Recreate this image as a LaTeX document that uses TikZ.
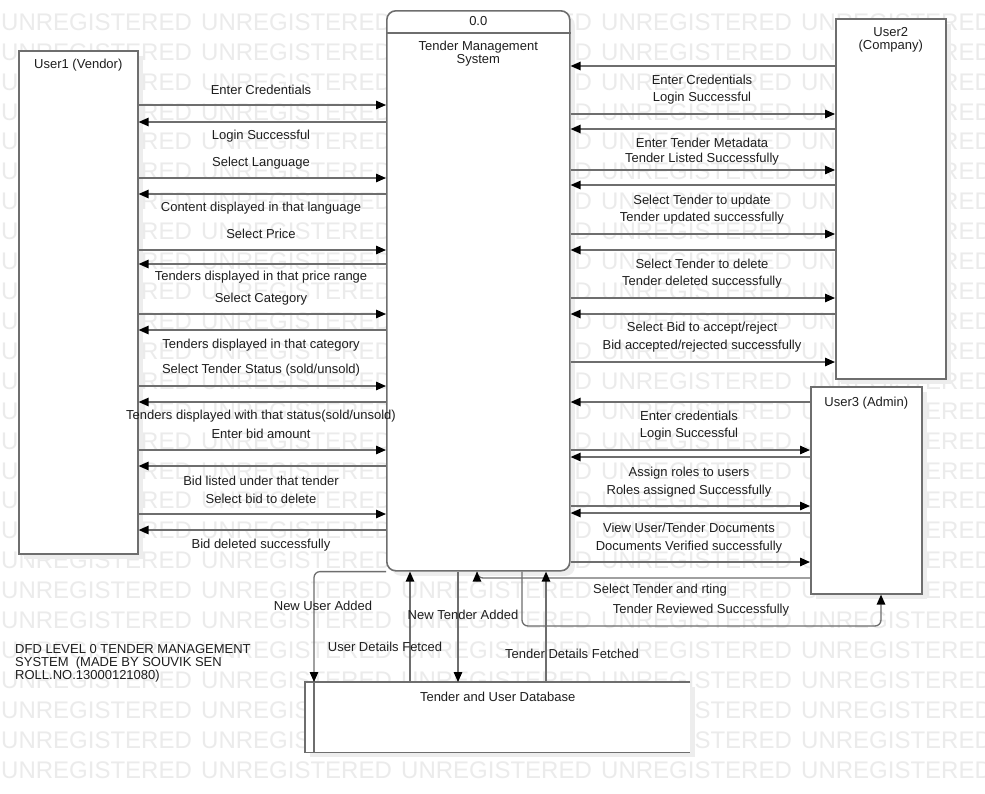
\documentclass[tikz,border=0pt]{standalone}
\usepackage{fontspec}
\setmainfont{Liberation Sans}
\usetikzlibrary{arrows.meta,calc,shadows}
\definecolor{edge}{HTML}{6E6E6E}
\definecolor{mark}{HTML}{EBEBEB}
\definecolor{shade}{HTML}{EDEDED}
\definecolor{ink}{HTML}{1E1E1E}
\tikzset{
  wm/.style={anchor=west, inner sep=0pt, text=mark, font=\fontsize{24}{24}\selectfont},
  entity/.style={draw=edge, line width=1.6pt, fill=white, inner sep=0pt, anchor=north west,
    drop shadow={shadow xshift=5pt, shadow yshift=-5pt, fill=shade, opacity=1}},
  lbl/.style={text=ink, font=\fontsize{13}{13}\selectfont, inner sep=0pt, align=center},
  note/.style={text=ink, font=\fontsize{13}{13}\selectfont, inner sep=0pt, align=left, anchor=north west},
  flow/.style={draw=edge, line width=1.3pt, -{Triangle[length=10pt,width=8.5pt,color=black]}},
  storeline/.style={draw=edge, line width=1.6pt},
}
\begin{document}
\begin{tikzpicture}[x=1pt,y=-1pt]
\useasboundingbox (0,0) rectangle (985,793);
\clip (0,0) rectangle (985,793);
\fill[white] (0,0) rectangle (985,793);

% background watermark rows
\foreach \r in {0,...,25}{
  \foreach \c in {0,...,4}{
    \node[wm] (wm-\r-\c) at ({1+200*\c},{22+29.92*\r}) {UNREGISTERED};
  }
}

% external entities and the process
\node[entity, minimum width=119pt, minimum height=503pt] (u1) at (18,50) {};
\node[entity, minimum width=183pt, minimum height=560pt, rounded corners=9pt] (tms) at (386,10) {};
\node[entity, minimum width=110pt, minimum height=360pt] (u2) at (835,18) {};
\node[entity, minimum width=111pt, minimum height=207pt] (u3) at (810,386) {};

% data store (open on the right)
\node[anchor=north west, minimum width=385pt, minimum height=70pt, inner sep=0pt, fill=white,
  drop shadow={shadow xshift=5pt, shadow yshift=-5pt, fill=shade, opacity=1}] (db) at (305,682) {};
\draw[storeline] (db.north east) -- (db.north west) -- (db.south west) -- (db.south east);
\coordinate (dbin) at ($(db.north west)+(9,0)$);
\draw[storeline] (dbin) -- ($(db.south west)+(9,0)$);

% titles
\draw[storeline] (tms.north west |- 0,33) -- (tms.north east |- 0,33);
\node[lbl] (tmsid) at ($(tms.north)+(0,11)$) {0.0};
\node[lbl] (tmsname) at ($(tms.north)+(0,43.5)$) {Tender Management\\System};
\node[lbl] (u1name) at ($(u1.north)+(0,15)$) {User1 (Vendor)};
\node[lbl] (u2name) at ($(u2.north)+(0,22)$) {User2\\(Company)};
\node[lbl] (u3name) at ($(u3.north)+(0,17)$) {User3 (Admin)};
\node[lbl] (dbname) at ($(db.north)+(0,15)$) {Tender and User Database};

% User1 <-> process
\foreach \y in {105,178,250,314,386,450,514}
  \draw[flow] (u1.east |- 0,\y) -- (tms.west |- 0,\y);
\foreach \y in {122,194,264,330,402,466,530}
  \draw[flow] (tms.west |- 0,\y) -- (u1.east |- 0,\y);
\foreach \y/\t [count=\i] in {90/{Enter Credentials}, 136/{Login Successful}, 163/{Select Language},
    208/{Content displayed in that language}, 234/{Select Price},
    277/{Tenders displayed in that price range}, 299/{Select Category},
    345/{Tenders displayed in that category}, 370/{Select Tender Status (sold/unsold)},
    416/{Tenders displayed with that status(sold/unsold)}, 434/{Enter bid amount},
    481/{Bid listed under that tender}, 499/{Select bid to delete}, 545/{Bid deleted successfully}}
  \node[lbl] (a\i) at (261,\y) {\t};

% User2 <-> process
\foreach \y in {66,129,185,250,314}
  \draw[flow] (u2.west |- 0,\y) -- (tms.east |- 0,\y);
\foreach \y in {114,170,234,298,362}
  \draw[flow] (tms.east |- 0,\y) -- (u2.west |- 0,\y);
\foreach \y/\t [count=\i] in {80/{Enter Credentials}, 98/{Login Successful},
    143/{Enter Tender Metadata}, 159/{Tender Listed Successfully},
    201/{Select Tender to update}, 218/{Tender updated successfully},
    264/{Select Tender to delete}, 282/{Tender deleted successfully},
    328/{Select Bid to accept/reject}, 346/{Bid accepted/rejected successfully}}
  \node[lbl] (b\i) at (702,\y) {\t};

% User3 <-> process
\foreach \y in {402,457,513}
  \draw[flow] (u3.west |- 0,\y) -- (tms.east |- 0,\y);
\foreach \y in {450,506,562}
  \draw[flow] (tms.east |- 0,\y) -- (u3.west |- 0,\y);
\foreach \y/\t [count=\i] in {416/{Enter credentials}, 434/{Login Successful},
    473/{Assign roles to users}, 491/{Roles assigned Successfully},
    528/{View User/Tender Documents}, 547/{Documents Verified successfully}}
  \node[lbl] (c\i) at (689,\y) {\t};

\draw[flow, rounded corners=6pt] (u3.west |- 0,578) -| (tms.south -| 477,0);
\node[lbl] (c7) at (660,590) {Select Tender and rting};
\draw[flow, rounded corners=6pt] (tms.south -| 522,0) -- (522,626) -- (881,626) -- (u3.south -| 881,0);
\node[lbl] (c8) at (701,610) {Tender Reviewed Successfully};

% process <-> data store
\draw[flow, rounded corners=6pt] (tms.south west) -| (dbin);
\node[lbl] (d1) at (323,606) {New User Added};
\draw[flow] (db.north -| 410,0) -- (tms.south -| 410,0);
\node[lbl] (d2) at (385,647) {User Details Fetced};
\draw[flow] (tms.south -| 458,0) -- (db.north -| 458,0);
\node[lbl] (d3) at (463,615) {New Tender Added};
\draw[flow] (db.north -| 546,0) -- (tms.south -| 546,0);
\node[lbl] (d4) at (572,654) {Tender Details Fetched};

% caption
\node[note] (caption) at (15,644) {DFD LEVEL 0 TENDER MANAGEMENT\\SYSTEM\ \ (MADE BY SOUVIK SEN\\ROLL.NO.13000121080)};
\end{tikzpicture}
\end{document}
